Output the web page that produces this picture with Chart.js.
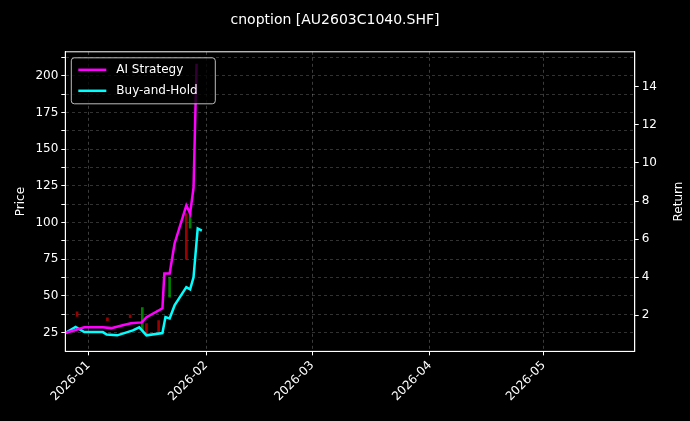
<!DOCTYPE html>
<html>
<head>
<meta charset="utf-8">
<script src="https://cdn.jsdelivr.net/npm/chart.js@4"></script>
<style>
  html, body { margin: 0; background: #000; }
  #wrap { width: 690px; height: 421px; }
</style>
</head>
<body>
<div id="wrap"><canvas id="myChart"></canvas></div>
<script>
// days counted from 2026-01-01
const monthTicks = [0, 31, 59, 90, 120];
const monthLabels = ["2026-01", "2026-02", "2026-03", "2026-04", "2026-05"];

const aiDays = [-6.1, -1.1, 3.8, 6, 9, 11.2, 14, 15.3, 19.5, 20, 21.4, 22.7, 25.8, 26.8, 27.7, 28.5];
const aiReturn = [1.07, 1.37, 1.37, 1.33, 1.48, 1.58, 1.63, 1.9, 2.37, 4.2, 4.2, 5.77, 7.77, 7.35, 8.7, 15.2];

const bhDays = [-6.1, -3.4, -1.1, 3.8, 4.8, 7.6, 11.7, 13.4, 15.3, 19.5, 20.3, 21.4, 22.7, 25.8, 26.8, 27.7, 28.8, 29.9];
const bhReturn = [1.07, 1.39, 1.12, 1.12, 0.99, 0.95, 1.21, 1.37, 0.95, 1.07, 1.91, 1.84, 2.52, 3.48, 3.36, 4.0, 6.56, 6.45];

const candleDays = [-3, 5, 11, 14.2, 15.3, 18.5, 21.4, 25.8, 26.8];
const candleLow = [36, 33, 35, 26, 24, 25, 49, 75, 96];
const candleHigh = [39, 35, 37, 42, 31, 33, 62.6, 106, 106];
const candleUp = [false, false, false, true, false, false, true, false, true];

let chart;

const boxLegend = {
  id: "boxLegend",
  afterDraw(c) {
    const ctx = c.ctx;
    const x = c.chartArea.left + 6, y = c.chartArea.top + 6;
    ctx.save();
    ctx.fillStyle = "rgba(0,0,0,0.8)";
    ctx.strokeStyle = "#bbbbbb";
    ctx.lineWidth = 1;
    ctx.beginPath();
    ctx.roundRect(x, y, 144, 46, 3);
    ctx.fill();
    ctx.stroke();
    ctx.font = "12px 'DejaVu Sans'";
    ctx.textBaseline = "middle";
    [0, 1].forEach(i => {
      const ds = c.data.datasets[i];
      const ly = y + 12 + i * 21;
      ctx.strokeStyle = ds.borderColor;
      ctx.lineWidth = 2.5;
      ctx.beginPath();
      ctx.moveTo(x + 7, ly);
      ctx.lineTo(x + 35, ly);
      ctx.stroke();
      ctx.fillStyle = "#ffffff";
      ctx.fillText(ds.label, x + 45, ly);
    });
    // right axis title, reading bottom to top
    const a = c.chartArea;
    ctx.translate(a.right + 44, (a.top + a.bottom) / 2);
    ctx.rotate(-Math.PI / 2);
    ctx.textAlign = "center";
    ctx.fillText("Return", 0, 0);
    ctx.restore();
  }
};

function drawChart() {
  const ctx = document.getElementById("myChart").getContext("2d");
  if (chart) chart.destroy();

  chart = new Chart(ctx, {
    type: "line",
    data: {
      datasets: [{
        label: "AI Strategy",
        data: aiDays.map((d, i) => ({ x: d, y: aiReturn[i] })),
        borderColor: "#ff00ff",
        borderWidth: 2.5,
        pointRadius: 0,
        yAxisID: "yR"
      }, {
        label: "Buy-and-Hold",
        data: bhDays.map((d, i) => ({ x: d, y: bhReturn[i] })),
        borderColor: "#00ffff",
        borderWidth: 2.5,
        pointRadius: 0,
        yAxisID: "yR"
      }, {
        type: "bar",
        label: "candles",
        data: candleDays.map((d, i) => ({ x: d, y: [candleLow[i], candleHigh[i]] })),
        backgroundColor: candleUp.map(u => u ? "rgba(0,180,0,0.7)" : "rgba(220,0,0,0.7)"),
        barThickness: 2,
        yAxisID: "yL",
        order: 5
      }]
    },
    options: {
      responsive: true,
      maintainAspectRatio: false,
      animation: false,
      layout: { padding: { top: 4, right: 30, left: 10, bottom: 14 } },
      plugins: {
        legend: { display: false },
        tooltip: { enabled: false },
        title: {
          display: true,
          text: "cnoption [AU2603C1040.SHF]",
          color: "#ffffff",
          font: { family: "DejaVu Sans", size: 14, weight: "normal" },
          padding: { top: 8, bottom: 23 }
        }
      },
      scales: {
        x: {
          type: "linear",
          offset: false,
          min: -6.1,
          max: 144,
          afterBuildTicks: ax => { ax.ticks = monthTicks.map(v => ({ value: v })); },
          ticks: {
            color: "#ffffff",
            font: { family: "DejaVu Sans", size: 12 },
            maxRotation: 45, minRotation: 45,
            callback: v => monthLabels[monthTicks.indexOf(v)]
          },
          grid: { offset: false, color: "rgba(200,200,200,0.3)", tickColor: "#ffffff", tickLength: 4 },
          border: { color: "#ffffff", dash: [3, 3] }
        },
        yL: {
          position: "left",
          min: 12.1, max: 216.3,
          afterBuildTicks: ax => {
            const t = [];
            for (let v = 25; v <= 212.5; v += 12.5) t.push({ value: v });
            ax.ticks = t;
          },
          ticks: {
            color: "#ffffff",
            font: { family: "DejaVu Sans", size: 12 },
            callback: v => v % 25 === 0 ? v : ""
          },
          title: { display: true, text: "Price", color: "#ffffff", font: { family: "DejaVu Sans", size: 12 } },
          grid: { color: "rgba(200,200,200,0.25)", tickColor: "#ffffff", tickLength: 4 },
          border: { color: "#ffffff", dash: [3, 3] }
        },
        yR: {
          position: "right",
          min: 0.11, max: 15.83,
          afterBuildTicks: ax => { ax.ticks = [2, 4, 6, 8, 10, 12, 14].map(v => ({ value: v })); },
          ticks: { color: "#ffffff", font: { family: "DejaVu Sans", size: 12 } },
          grid: { drawOnChartArea: false, tickColor: "#ffffff", tickLength: 4 },
          border: { color: "#ffffff" }
        }
      }
    },
    plugins: [boxLegend, {
      id: "frame",
      beforeDraw(c) {
        c.ctx.save();
        c.ctx.fillStyle = "#000";
        c.ctx.fillRect(0, 0, c.width, c.height);
        c.ctx.restore();
      },
      afterDatasetsDraw(c) {
        const a = c.chartArea, g = c.ctx;
        g.save();
        g.strokeStyle = "#ffffff";
        g.lineWidth = 1;
        g.strokeRect(a.left, a.top, a.right - a.left, a.bottom - a.top);
        g.restore();
      }
    }]
  });
}

drawChart();
</script>
</body>
</html>
